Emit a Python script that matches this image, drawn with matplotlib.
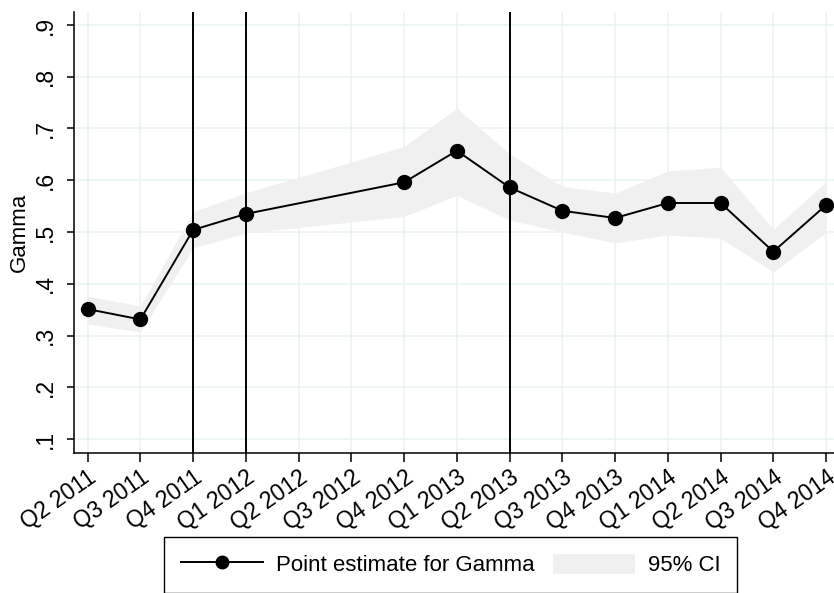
import matplotlib
matplotlib.use("Agg")
import matplotlib.pyplot as plt
from matplotlib.lines import Line2D
from matplotlib.patches import Patch

plt.rcParams['font.family'] = ['Liberation Sans', 'DejaVu Sans']

# quarter axis and the estimates (no estimate for Q2/Q3 2012)
quarters = ['Q2 2011', 'Q3 2011', 'Q4 2011', 'Q1 2012', 'Q2 2012', 'Q3 2012',
            'Q4 2012', 'Q1 2013', 'Q2 2013', 'Q3 2013', 'Q4 2013', 'Q1 2014',
            'Q2 2014', 'Q3 2014', 'Q4 2014']
est_quarters = ['Q2 2011', 'Q3 2011', 'Q4 2011', 'Q1 2012', 'Q4 2012', 'Q1 2013',
                'Q2 2013', 'Q3 2013', 'Q4 2013', 'Q1 2014', 'Q2 2014', 'Q3 2014',
                'Q4 2014']
gamma = [0.351, 0.331, 0.504, 0.535, 0.596, 0.657, 0.586, 0.541, 0.527,
         0.556, 0.556, 0.462, 0.552]
ci_lo = [0.322, 0.307, 0.469, 0.498, 0.530, 0.571, 0.523, 0.500, 0.479,
         0.494, 0.488, 0.423, 0.499]
ci_hi = [0.376, 0.357, 0.539, 0.576, 0.665, 0.739, 0.651, 0.588, 0.575,
         0.618, 0.625, 0.505, 0.597]
events = ['Q4 2011', 'Q1 2012', 'Q2 2013']
yticks = [0.1, 0.2, 0.3, 0.4, 0.5, 0.6, 0.7, 0.8, 0.9]
ytick_labels = ['.1', '.2', '.3', '.4', '.5', '.6', '.7', '.8', '.9']

xpos = [quarters.index(q) for q in est_quarters]

fig = plt.figure(figsize=(8.34, 5.93), dpi=100)
ax = fig.add_axes([73.7 / 834, 1 - 453 / 593, 760.3 / 834, 441 / 593])

ax.fill_between(xpos, ci_lo, ci_hi, color='#f0f0f0', lw=0, zorder=1)
for q in events:
    ax.axvline(quarters.index(q), color='black', lw=1.4, zorder=2)
ax.plot(xpos, gamma, 'o-', color='black', lw=1.4, ms=10, zorder=3)

ax.set_xlim(-0.265, 14.15)
ax.set_ylim(0.073, 0.925)
ax.set_xticks(range(len(quarters)))
ax.set_xticklabels(quarters, rotation=35, ha='right', rotation_mode='anchor')
ax.set_yticks(yticks)
ax.set_yticklabels(ytick_labels, rotation=90, va='center')
ax.tick_params(axis='x', length=6.5, width=1.1, pad=3, labelsize=16.5)
ax.tick_params(axis='y', length=5, width=1.1, pad=7, labelsize=16.5)
ax.set_ylabel('Gamma', fontsize=16, labelpad=3)

ax.grid(True, color='#eaf2f3', lw=1.1, zorder=0)
ax.set_axisbelow(True)
for side in ['top', 'right']:
    ax.spines[side].set_visible(False)
for side in ['left', 'bottom']:
    ax.spines[side].set_linewidth(1.1)

handles = [Line2D([], [], color='black', lw=1.4, marker='o', ms=9),
           Patch(facecolor='#f0f0f0', edgecolor='none')]
leg = fig.legend(handles, ['Point estimate for Gamma', '95% CI'], ncol=2,
                 loc='upper left', bbox_to_anchor=(164 / 834, 1 - 537 / 593),
                 borderaxespad=0, fontsize=16, handlelength=3.7,
                 handleheight=1.0, handletextpad=0.6, columnspacing=0.8,
                 borderpad=0.75, fancybox=False, framealpha=1,
                 edgecolor='black')
leg.get_frame().set_linewidth(1.0)

fig.savefig('out.png', dpi=100)
